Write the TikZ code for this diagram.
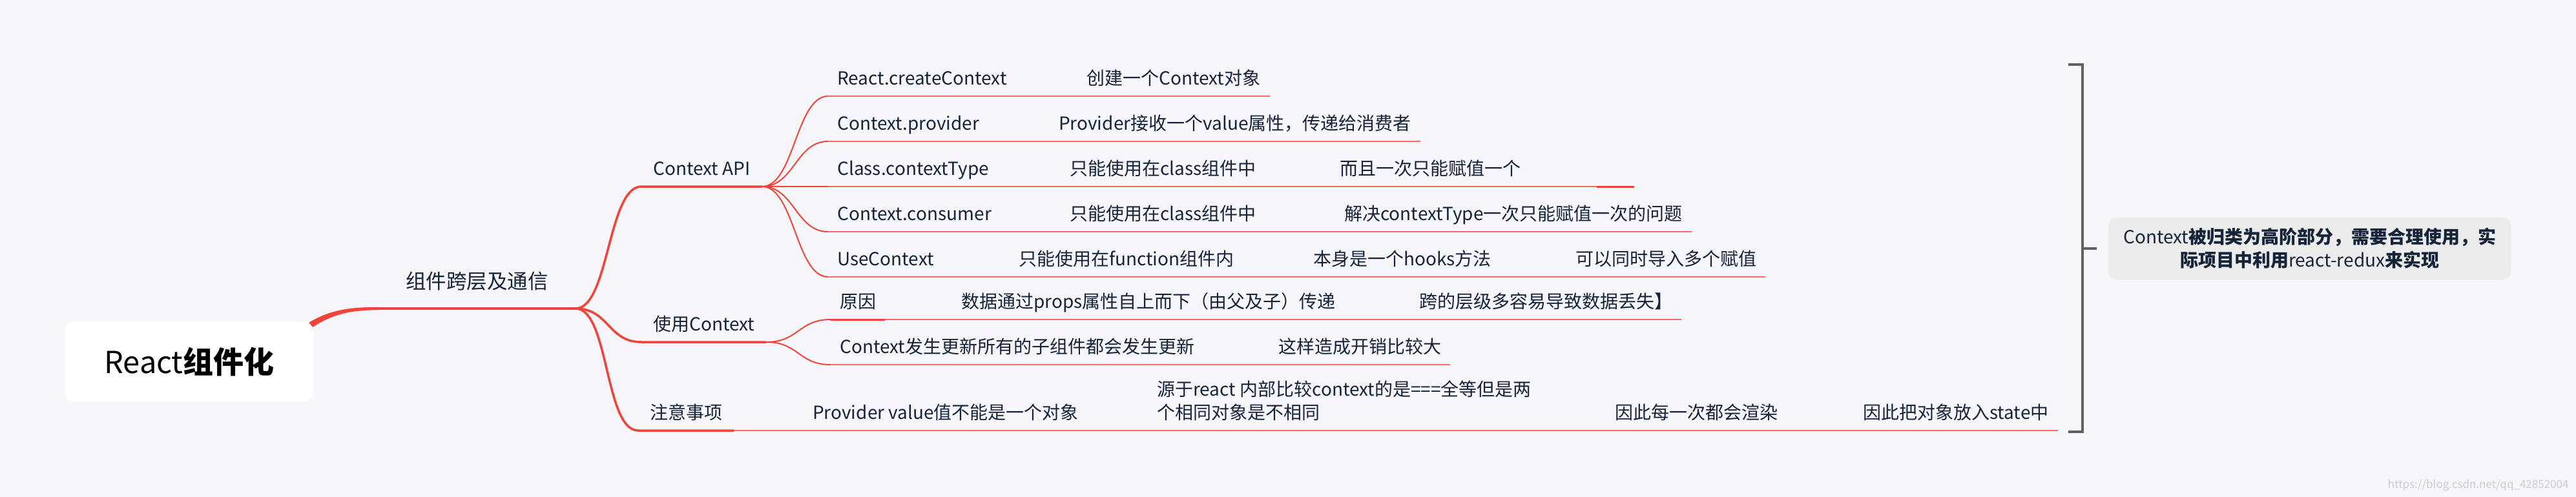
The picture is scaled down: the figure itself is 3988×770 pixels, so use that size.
\documentclass[tikz,border=0pt]{standalone}
\usepackage{fontspec}
\setmainfont{Noto Sans CJK SC}
\usetikzlibrary{positioning}
\definecolor{mapred}{RGB}{240,68,56}
\definecolor{leafred}{RGB}{243,108,98}
\definecolor{ink}{RGB}{22,36,58}
\definecolor{paper}{RGB}{245,245,250}
\definecolor{notegray}{RGB}{235,235,236}
\definecolor{bracegray}{RGB}{96,96,96}
\newcommand\rootfont{\fontsize{47pt}{56pt}\selectfont}
\newcommand\trunkfont{\fontsize{31.5pt}{38pt}\selectfont}
\newcommand\leaffont{\fontsize{28pt}{36pt}\selectfont}
\newcommand\markfont{\fontsize{17pt}{20pt}\selectfont}

\begin{document}
\begin{tikzpicture}[x=1pt,y=-1pt,
   root/.style={fill=white,rounded corners=12pt,minimum width=384pt,
                minimum height=124pt,font=\rootfont,text=black},
   topic/.style={anchor=south west,inner ysep=0pt,text depth=17pt,
                 font=\leaffont,text=ink},
   trunk/.style={topic,inner xsep=42pt,text depth=30pt,font=\trunkfont},
   limb/.style={topic,inner xsep=18pt},
   leaf/.style={topic,inner xsep=14pt},
   trunkline/.style={draw=mapred,line width=4.5pt},
   limbline/.style={draw=mapred,line width=3.5pt},
   twigline/.style={draw=mapred,line width=2pt},
   leafline/.style={draw=leafred,line width=2.5pt},
   endline/.style={draw=mapred,line width=3pt},
   note/.style={fill=notegray,rounded corners=12pt,minimum width=623pt,
                minimum height=96pt,align=center,font=\leaffont,text=ink},
   bracketline/.style={draw=bracegray,line width=4pt}
 ]
  \fill[paper] (0,0) rectangle (3988,770);
  \useasboundingbox (0,0) rectangle (3988,770);

  \node[trunk] (main) at (586,478) {组件跨层及通信};
  \node[root] (root) at (293,560) {React\textbf{组件化}};
  \fill[mapred] ([shift={(-7,2)}]root.north east) .. controls +(30,-18) and +(-50,0) ..
    ([yshift=2.25pt]main.south west) -- ([yshift=-2.25pt]main.south west)
    .. controls +(-48,0) and +(28,-18) .. ([shift={(-1,9)}]root.north east) -- cycle;
  \draw[trunkline] (main.south west) -- (main.south east);

  \node[limb] (api) at (993,289) {Context API};
  \node[limb] (use) at (993,530) {使用Context};
  \node[limb] (care) at (988,667) {注意事项};
  \draw[limbline] (main.south east) .. controls +(52,0) and +(-52,0) .. (api.south west) -- (api.south east);
  \draw[limbline] (main.south east) .. controls +(52,0) and +(-52,0) .. (use.south west) -- (use.south east);
  \draw[limbline] (main.south east) .. controls +(52,0) and +(-52,0) .. (care.south west) -- (care.south east);

  \node[leaf] (rc) at (1282,149) {React.createContext};
  \node[leaf] (rc1) at (1668,149) {创建一个Context对象};
  \node[leaf] (cp) at (1282,219) {Context.provider};
  \node[leaf] (cp1) at (1625,219) {Provider接收一个value属性，传递给消费者};
  \node[leaf] (ct) at (1282,289) {Class.contextType};
  \node[leaf] (ct1) at (1642,289) {只能使用在class组件中};
  \node[leaf] (ct2) at (2060,289) {而且一次只能赋值一个};
  \node[leaf,minimum width=58pt,inner xsep=0pt,text depth=0pt] (ct3) at (2472,289) {};
  \node[leaf] (cc) at (1282,359) {Context.consumer};
  \node[leaf] (cc1) at (1642,359) {只能使用在class组件中};
  \node[leaf] (cc2) at (2067,359) {解决contextType一次只能赋值一次的问题};
  \node[leaf] (uc) at (1282,429) {UseContext};
  \node[leaf] (uc1) at (1563,429) {只能使用在function组件内};
  \node[leaf] (uc2) at (2019,429) {本身是一个hooks方法};
  \node[leaf] (uc3) at (2425,429) {可以同时导入多个赋值};
  \draw[twigline] (api.south east) .. controls +(50,0) and +(-50,0) .. (rc.south west);
  \draw[twigline] (api.south east) .. controls +(50,0) and +(-50,0) .. (cp.south west);
  \draw[twigline] (api.south east) .. controls +(50,0) and +(-50,0) .. (ct.south west);
  \draw[twigline] (api.south east) .. controls +(50,0) and +(-50,0) .. (cc.south west);
  \draw[twigline] (api.south east) .. controls +(50,0) and +(-50,0) .. (uc.south west);
  \draw[leafline] (rc.south west) -- (rc.south east) -- (rc1.south west) -- (rc1.south east);
  \draw[leafline] (cp.south west) -- (cp.south east) -- (cp1.south west) -- (cp1.south east);
  \draw[leafline] (ct.south west) -- (ct.south east) -- (ct1.south west) -- (ct1.south east)
    -- (ct2.south west) -- (ct2.south east) -- (ct3.south west);
  \draw[endline] (ct3.south west) -- (ct3.south east);
  \draw[leafline] (cc.south west) -- (cc.south east) -- (cc1.south west) -- (cc1.south east)
    -- (cc2.south west) -- (cc2.south east);
  \draw[leafline] (uc.south west) -- (uc.south east) -- (uc1.south west) -- (uc1.south east)
    -- (uc2.south west) -- (uc2.south east) -- (uc3.south west) -- (uc3.south east);

  \node[leaf] (why) at (1286,495) {原因};
  \node[leaf] (why1) at (1474,495) {数据通过props属性自上而下（由父及子）传递};
  \node[leaf] (why2) at (2183,495) {跨的层级多容易导致数据丢失】};
  \node[leaf] (upd) at (1286,565) {Context发生更新所有的子组件都会发生更新};
  \node[leaf] (upd1) at (1965,565) {这样造成开销比较大};
  \draw[twigline] (use.south east) .. controls +(50,0) and +(-50,0) .. (why.south west);
  \draw[twigline] (use.south east) .. controls +(50,0) and +(-50,0) .. (upd.south west);
  \draw[endline] (why.south west) -- (why.south east);
  \draw[leafline] (why.south east) -- (why1.south west) -- (why1.south east)
    -- (why2.south west) -- (why2.south east);
  \draw[leafline] (upd.south west) -- (upd.south east) -- (upd1.south west) -- (upd1.south east);

  \node[leaf] (pv) at (1244,667) {Provider value值不能是一个对象};
  \node[leaf] (eq) at (1777,667) {\begin{tabular}[b]{@{}l@{}}源于react 内部比较context的是===全等但是两\\个相同对象是不相同\end{tabular}};
  \node[leaf] (rr) at (2486,667) {因此每一次都会渲染};
  \node[leaf] (st) at (2870,667) {因此把对象放入state中};
  \draw[leafline] (care.south east) -- (pv.south west) -- (pv.south east) -- (eq.south west)
    -- (eq.south east) -- (rr.south west) -- (rr.south east) -- (st.south west) -- (st.south east);

  \coordinate (brk) at (3224,385);
  \draw[bracketline] (3202,100) -- (3224,100) -- (3224,669) -- (3202,669);
  \node[note,right=40pt of brk] (note) {Context\textbf{被归类为高阶部分，需要合理使用，实}\\
    \textbf{际项目中利用}react-redux\textbf{来实现}};
  \draw[bracketline] (brk) -- ([xshift=-18pt]note.west);

  \node[anchor=east,font=\markfont,text=gray!40] (mark) at (3980,752) {https://blog.csdn.net/qq\_42852004};
 \end{tikzpicture}
\end{document}
